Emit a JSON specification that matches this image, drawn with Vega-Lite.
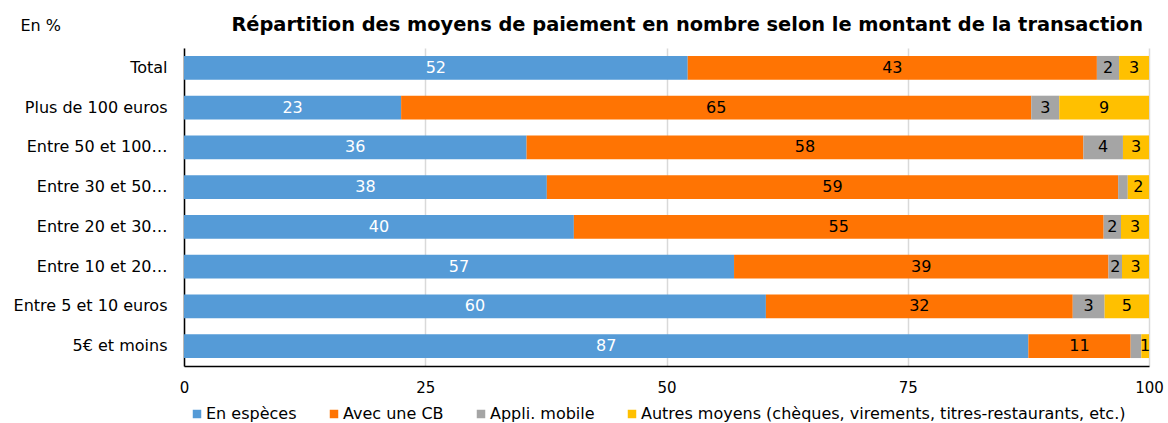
{
  "$schema": "https://vega.github.io/schema/vega-lite/v6.json",
  "width": 965,
  "height": 318,
  "autosize": {"type": "none"},
  "padding": {"left": 184, "top": 48, "right": 19, "bottom": 57},
  "background": "white",
  "config": {
    "font": "DejaVu Sans",
    "view": {"stroke": null},
    "axis": {"labelFont": "DejaVu Sans", "labelColor": "#000000"}
  },
  "title": {
    "text": "Répartition des moyens de paiement en nombre selon le montant de la transaction",
    "anchor": "end",
    "frame": "group",
    "font": "DejaVu Sans",
    "fontSize": 19.4,
    "fontWeight": "bold",
    "color": "#000000",
    "offset": 14,
    "dx": -6,
    "dy": 32
  },
  "data": {
    "values": [
      {"cat": "Total", "mode": "En espèces", "k": 1, "v": 52.2, "lab": "52"},
      {"cat": "Total", "mode": "Avec une CB", "k": 2, "v": 42.4, "lab": "43"},
      {"cat": "Total", "mode": "Appli. mobile", "k": 3, "v": 2.3, "lab": "2"},
      {"cat": "Total", "mode": "Autres moyens (chèques, virements, titres-restaurants, etc.)", "k": 4, "v": 3.1, "lab": "3"},
      {"cat": "Plus de 100 euros", "mode": "En espèces", "k": 1, "v": 22.5, "lab": "23"},
      {"cat": "Plus de 100 euros", "mode": "Avec une CB", "k": 2, "v": 65.3, "lab": "65"},
      {"cat": "Plus de 100 euros", "mode": "Appli. mobile", "k": 3, "v": 2.9, "lab": "3"},
      {"cat": "Plus de 100 euros", "mode": "Autres moyens (chèques, virements, titres-restaurants, etc.)", "k": 4, "v": 9.3, "lab": "9"},
      {"cat": "Entre 50 et 100 euros", "mode": "En espèces", "k": 1, "v": 35.5, "lab": "36"},
      {"cat": "Entre 50 et 100 euros", "mode": "Avec une CB", "k": 2, "v": 57.7, "lab": "58"},
      {"cat": "Entre 50 et 100 euros", "mode": "Appli. mobile", "k": 3, "v": 4.1, "lab": "4"},
      {"cat": "Entre 50 et 100 euros", "mode": "Autres moyens (chèques, virements, titres-restaurants, etc.)", "k": 4, "v": 2.7, "lab": "3"},
      {"cat": "Entre 30 et 50 euros", "mode": "En espèces", "k": 1, "v": 37.6, "lab": "38"},
      {"cat": "Entre 30 et 50 euros", "mode": "Avec une CB", "k": 2, "v": 59.2, "lab": "59"},
      {"cat": "Entre 30 et 50 euros", "mode": "Appli. mobile", "k": 3, "v": 1.0, "lab": ""},
      {"cat": "Entre 30 et 50 euros", "mode": "Autres moyens (chèques, virements, titres-restaurants, etc.)", "k": 4, "v": 2.2, "lab": "2"},
      {"cat": "Entre 20 et 30 euros", "mode": "En espèces", "k": 1, "v": 40.4, "lab": "40"},
      {"cat": "Entre 20 et 30 euros", "mode": "Avec une CB", "k": 2, "v": 54.9, "lab": "55"},
      {"cat": "Entre 20 et 30 euros", "mode": "Appli. mobile", "k": 3, "v": 1.8, "lab": "2"},
      {"cat": "Entre 20 et 30 euros", "mode": "Autres moyens (chèques, virements, titres-restaurants, etc.)", "k": 4, "v": 2.9, "lab": "3"},
      {"cat": "Entre 10 et 20 euros", "mode": "En espèces", "k": 1, "v": 57.0, "lab": "57"},
      {"cat": "Entre 10 et 20 euros", "mode": "Avec une CB", "k": 2, "v": 38.8, "lab": "39"},
      {"cat": "Entre 10 et 20 euros", "mode": "Appli. mobile", "k": 3, "v": 1.4, "lab": "2"},
      {"cat": "Entre 10 et 20 euros", "mode": "Autres moyens (chèques, virements, titres-restaurants, etc.)", "k": 4, "v": 2.8, "lab": "3"},
      {"cat": "Entre 5 et 10 euros", "mode": "En espèces", "k": 1, "v": 60.3, "lab": "60"},
      {"cat": "Entre 5 et 10 euros", "mode": "Avec une CB", "k": 2, "v": 31.8, "lab": "32"},
      {"cat": "Entre 5 et 10 euros", "mode": "Appli. mobile", "k": 3, "v": 3.3, "lab": "3"},
      {"cat": "Entre 5 et 10 euros", "mode": "Autres moyens (chèques, virements, titres-restaurants, etc.)", "k": 4, "v": 4.6, "lab": "5"},
      {"cat": "5€ et moins", "mode": "En espèces", "k": 1, "v": 87.5, "lab": "87"},
      {"cat": "5€ et moins", "mode": "Avec une CB", "k": 2, "v": 10.6, "lab": "11"},
      {"cat": "5€ et moins", "mode": "Appli. mobile", "k": 3, "v": 1.1, "lab": ""},
      {"cat": "5€ et moins", "mode": "Autres moyens (chèques, virements, titres-restaurants, etc.)", "k": 4, "v": 0.8, "lab": "1"}
    ]
  },
  "transform": [
    {"stack": "v", "groupby": ["cat"], "sort": [{"field": "k", "order": "ascending"}], "as": ["x0", "x1"]}
  ],
  "encoding": {
    "y": {
      "field": "cat",
      "type": "nominal",
      "sort": ["Total", "Plus de 100 euros", "Entre 50 et 100 euros", "Entre 30 et 50 euros", "Entre 20 et 30 euros", "Entre 10 et 20 euros", "Entre 5 et 10 euros", "5€ et moins"],
      "scale": {"paddingInner": 0.4, "paddingOuter": 0.2},
      "axis": {
        "title": "En %",
        "titleAngle": 0,
        "titleAlign": "left",
        "titleBaseline": "middle",
        "titleX": -164,
        "titleY": -23,
        "titleFont": "DejaVu Sans",
        "titleFontSize": 16,
        "titleFontWeight": "normal",
        "titleColor": "#000000",
        "labelFontSize": 16,
        "labelPadding": 17,
        "labelLimit": 200,
        "labelExpr": "length(datum.label) > 19 ? replace(datum.label, / euros$/, '…') : datum.label",
        "ticks": false,
        "domainColor": "#000000",
        "domainWidth": 1.5,
        "grid": false
      }
    }
  },
  "layer": [
    {
      "mark": {"type": "bar"},
      "encoding": {
        "x": {
          "field": "x0",
          "type": "quantitative",
          "scale": {"domain": [0, 100], "nice": false, "zero": true},
          "axis": {
            "title": null,
            "values": [0, 25, 50, 75, 100],
            "labelFontSize": 15,
            "labelPadding": 14,
            "labelFlush": false,
            "ticks": false,
            "domainColor": "#000000",
            "domainWidth": 1.5,
            "grid": true,
            "gridColor": "#d9d9d9",
            "gridWidth": 1.5
          }
        },
        "x2": {"field": "x1"},
        "color": {
          "field": "mode",
          "type": "nominal",
          "scale": {
            "domain": ["En espèces", "Avec une CB", "Appli. mobile", "Autres moyens (chèques, virements, titres-restaurants, etc.)"],
            "range": ["#559bd7", "#ff7403", "#a5a5a5", "#ffc000"]
          },
          "legend": {
            "title": null,
            "orient": "none",
            "direction": "horizontal",
            "legendX": 5,
            "legendY": 358,
            "symbolType": "square",
            "symbolSize": 72,
            "symbolStrokeWidth": 0,
            "labelFont": "DejaVu Sans",
            "labelFontSize": 16,
            "labelColor": "#000000",
            "labelOffset": 1,
            "labelLimit": 600,
            "columnPadding": 29
          }
        }
      }
    },
    {
      "transform": [
        {"fold": ["x0", "x1"], "as": ["edge", "pos"]},
        {"aggregate": [{"op": "mean", "field": "pos", "as": "mid"}], "groupby": ["cat", "mode", "k", "lab"]}
      ],
      "mark": {"type": "text", "fontSize": 16, "baseline": "middle", "align": "center"},
      "encoding": {
        "x": {"field": "mid", "type": "quantitative"},
        "text": {"field": "lab", "type": "nominal"},
        "color": {
          "condition": {"test": "datum.k == 1", "value": "#ffffff"},
          "value": "#000000"
        }
      }
    }
  ]
}
